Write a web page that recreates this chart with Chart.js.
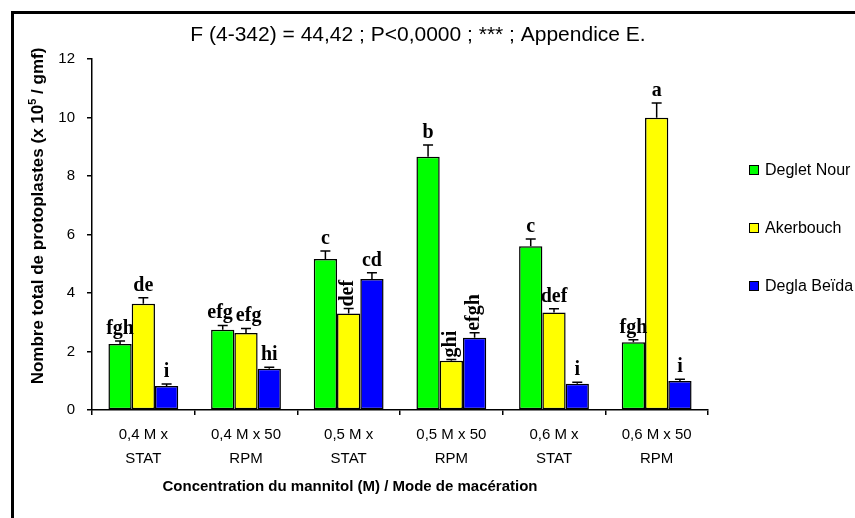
<!DOCTYPE html>
<html lang="fr">
<head>
<meta charset="utf-8">
<title>Nombre total de protoplastes</title>
<script src="https://cdn.jsdelivr.net/npm/chart.js@4.4.1/dist/chart.umd.min.js"></script>
<style>
  html, body { margin: 0; padding: 0; background: #fff; }
  #wrap { width: 855px; height: 518px; }
</style>
</head>
<body>
<div id="wrap"><canvas id="chart" width="855" height="518"></canvas></div>
<script>
// Catégories : concentration du mannitol / mode de macération
const categories = [
    ["0,4 M x", "STAT"],
    ["0,4 M x 50", "RPM"],
    ["0,5 M x", "STAT"],
    ["0,5 M x 50", "RPM"],
    ["0,6 M x", "STAT"],
    ["0,6 M x 50", "RPM"]
];

// Séries (x 10^5 / gmf)
const seriesNames = ["Deglet Nour", "Akerbouch", "Degla Beïda"];
const degletNour = [2.26, 2.74, 5.16, 8.66, 5.60, 2.32];
const akerbouch  = [3.63, 2.63, 3.30, 1.68, 3.33, 9.99];
const deglaBeida = [0.82, 1.41, 4.48, 2.47, 0.90, 0.99];

// Erreurs standard (barre supérieure uniquement)
const errDegletNour = [0.10, 0.15, 0.28, 0.40, 0.25, 0.08];
const errAkerbouch  = [0.21, 0.16, 0.17, 0.05, 0.13, 0.51];
const errDeglaBeida = [0.07, 0.05, 0.21, 0.17, 0.05, 0.06];

// Groupes homogènes
const lettersDegletNour = ["fgh", "efg", "c", "b", "c", "fgh"];
const lettersAkerbouch  = ["de", "efg", "def", "ghi", "def", "a"];
const lettersDeglaBeida = ["i", "hi", "cd", "efgh", "i", "i"];
// lettres écrites verticalement
const verticalAkerbouch  = [false, false, true, true, false, false];
const verticalDeglaBeida = [false, false, false, true, false, false];

const yTicks = [0, 2, 4, 6, 8, 10, 12];

const titleText = "F (4-342) = 44,42 ; P<0,0000 ; *** ; Appendice E.";
const xTitle = "Concentration du mannitol (M) / Mode de macération";

const errors = [errDegletNour, errAkerbouch, errDeglaBeida];
const letters = [lettersDegletNour, lettersAkerbouch, lettersDeglaBeida];
const vertical = [[false, false, false, false, false, false], verticalAkerbouch, verticalDeglaBeida];

const SANS = "'Liberation Sans', Arial, sans-serif";
const SERIF_BOLD = "bold 20px 'Liberation Serif', 'Times New Roman', serif";
Chart.defaults.font.family = SANS;
Chart.defaults.color = "#000";

// Barres d'erreur + lettres
const errorBars = {
    id: "errorBars",
    afterDatasetsDraw(chart) {
        const ctx = chart.ctx;
        const yScale = chart.scales.y;
        const n = chart.data.labels.length;
        ctx.save();
        ctx.font = SERIF_BOLD;
        for (let j = 0; j < n; j++) {
            const items = [];
            chart.data.datasets.forEach((ds, i) => {
                const bar = chart.getDatasetMeta(i).data[j];
                const top = yScale.getPixelForValue(ds.data[j] + errors[i][j]);
                ctx.strokeStyle = "#000";
                ctx.lineWidth = 1.5;
                ctx.beginPath();
                ctx.moveTo(bar.x, bar.y);
                ctx.lineTo(bar.x, top);
                ctx.moveTo(bar.x - 5, top);
                ctx.lineTo(bar.x + 5, top);
                ctx.stroke();
                items.push({
                    text: letters[i][j],
                    vert: vertical[i][j],
                    x: bar.x,
                    top: top,
                    w: ctx.measureText(letters[i][j]).width
                });
            });

            // écarter les lettres voisines qui se chevauchent
            for (let k = 0; k < items.length - 1; k++) {
                const a = items[k], b = items[k + 1];
                if (a.vert || b.vert || Math.abs(a.top - b.top) > 18) continue;
                const need = (a.x + a.w / 2 + 3) - (b.x - b.w / 2);
                if (need > 0) { a.x -= need / 2; b.x += need / 2; }
            }

            ctx.fillStyle = "#000";
            items.forEach(it => {
                if (it.vert) {
                    ctx.save();
                    ctx.translate(it.x - 1, it.top - 2);
                    ctx.rotate(-Math.PI / 2);
                    ctx.textAlign = "left";
                    ctx.textBaseline = "middle";
                    ctx.fillText(it.text, 0, 0);
                    ctx.restore();
                } else {
                    ctx.textAlign = "center";
                    ctx.textBaseline = "alphabetic";
                    ctx.fillText(it.text, it.x, it.top - 7);
                }
            });
        }
        ctx.restore();
    }
};

// Cadre, titres et légende
const decorations = {
    id: "decorations",
    afterDraw(chart) {
        const ctx = chart.ctx;
        ctx.save();

        // cadre
        ctx.strokeStyle = "#000";
        ctx.lineWidth = 3;
        ctx.strokeRect(12.5, 12.5, 900, 600);

        // titre
        ctx.fillStyle = "#000";
        ctx.font = "21px " + SANS;
        ctx.textAlign = "center";
        ctx.textBaseline = "alphabetic";
        ctx.fillText(titleText, 418, 41);

        // titre de l'axe x
        ctx.font = "bold 15px " + SANS;
        ctx.textBaseline = "middle";
        ctx.fillText(xTitle, 350, 487);

        // titre de l'axe y avec exposant
        const p1 = "Nombre total de protoplastes (x 10";
        const p2 = "5";
        const p3 = " / gmf)";
        ctx.save();
        ctx.translate(38, 216);
        ctx.rotate(-Math.PI / 2);
        ctx.textAlign = "left";
        ctx.textBaseline = "alphabetic";
        ctx.font = "bold 17px " + SANS;
        const w1 = ctx.measureText(p1).width;
        const w3 = ctx.measureText(p3).width;
        ctx.font = "bold 11px " + SANS;
        const w2 = ctx.measureText(p2).width;
        const x0 = -(w1 + w2 + w3) / 2;
        ctx.font = "bold 17px " + SANS;
        ctx.fillText(p1, x0, 5);
        ctx.font = "bold 11px " + SANS;
        ctx.fillText(p2, x0 + w1, -2);
        ctx.font = "bold 17px " + SANS;
        ctx.fillText(p3, x0 + w1 + w2, 5);
        ctx.restore();

        // légende
        ctx.font = "16px " + SANS;
        ctx.textAlign = "left";
        ctx.textBaseline = "middle";
        ctx.lineWidth = 1;
        chart.data.datasets.forEach((ds, i) => {
            const cy = 170 + i * 58;
            ctx.fillStyle = ds.backgroundColor;
            ctx.fillRect(749.5, cy - 4.5, 9, 9);
            ctx.strokeRect(749.5, cy - 4.5, 9, 9);
            ctx.fillStyle = "#000";
            ctx.fillText(ds.label, 765, cy + 1);
        });

        ctx.restore();
    }
};

function barSet(label, data, color) {
    return {
        label: label,
        data: data,
        backgroundColor: color,
        borderColor: "#000",
        borderWidth: 1.5,
        borderSkipped: false,
        barPercentage: 1.0,
        categoryPercentage: 0.68
    };
}

new Chart(document.getElementById("chart"), {
    type: "bar",
    data: {
        labels: categories,
        datasets: [
            barSet(seriesNames[0], degletNour, "#00ff00"),
            barSet(seriesNames[1], akerbouch, "#ffff00"),
            barSet(seriesNames[2], deglaBeida, "#0000ff")
        ]
    },
    options: {
        responsive: false,
        animation: false,
        layout: { padding: { top: 59, right: 147, bottom: 0, left: 0 } },
        plugins: {
            legend: { display: false },
            title: { display: false },
            tooltip: { enabled: false }
        },
        scales: {
            x: {
                offset: true,
                grid: {
                    offset: true,
                    drawOnChartArea: false,
                    drawTicks: true,
                    tickLength: 5,
                    color: "#000",
                    lineWidth: 1.5
                },
                border: { display: true, color: "#000", width: 1.5 },
                ticks: {
                    font: { size: 15, lineHeight: 1.6 },
                    color: "#000",
                    padding: 8,
                    maxRotation: 0,
                    autoSkip: false
                },
                afterFit(scale) { scale.height = 108; }
            },
            y: {
                min: 0,
                max: 12,
                afterBuildTicks(scale) { scale.ticks = yTicks.map(v => ({ value: v })); },
                grid: {
                    drawOnChartArea: false,
                    drawTicks: true,
                    tickLength: 5,
                    color: "#000",
                    lineWidth: 1.5
                },
                border: { display: true, color: "#000", width: 1.5 },
                ticks: {
                    font: { size: 15 },
                    color: "#000",
                    padding: 12
                },
                afterFit(scale) { scale.width = 92; }
            }
        }
    },
    plugins: [errorBars, decorations]
});
</script>
</body>
</html>
